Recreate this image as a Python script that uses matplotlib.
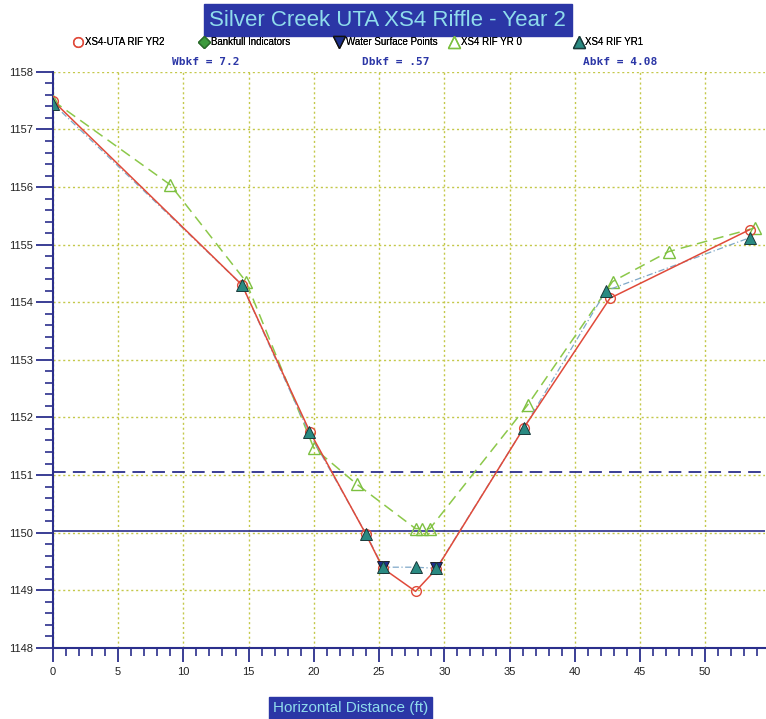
import matplotlib
matplotlib.use("Agg")
import matplotlib.pyplot as plt
from matplotlib.lines import Line2D
from matplotlib.ticker import MultipleLocator

# ---- data ----
yr2_x = [0, 14.5, 19.7, 24.0, 25.3, 27.8, 29.4, 36.1, 42.7, 53.4]
yr2_y = [1157.5, 1154.3, 1151.75, 1149.97, 1149.38, 1148.98, 1149.37, 1151.82, 1154.07, 1155.26]

yr1_x = [0, 14.5, 19.6, 24.0, 25.3, 27.8, 29.4, 36.1, 42.4, 53.4]
yr1_y = [1157.45, 1154.3, 1151.75, 1149.98, 1149.4, 1149.4, 1149.38, 1151.82, 1154.2, 1155.12]

yr0_x = [0, 9.0, 14.8, 20.0, 23.3, 27.8, 28.3, 28.9, 36.4, 42.9, 47.2, 53.8]
yr0_y = [1157.5, 1156.04, 1154.36, 1151.47, 1150.84, 1150.07, 1150.07, 1150.07, 1152.22, 1154.36, 1154.88, 1155.29]

ws_x = [25.3, 29.4]
ws_y = [1149.4, 1149.38]

bankfull_elev = 1151.05
water_elev = 1150.03

title = "Silver Creek UTA XS4 Riffle - Year 2"
xlabel = "Horizontal Distance (ft)"
stats = ["Wbkf = 7.2", "Dbkf = .57", "Abkf = 4.08"]
legend_labels = ["XS4-UTA RIF YR2", "Bankfull Indicators", "Water Surface Points",
                 "XS4 RIF YR 0", "XS4 RIF YR1"]

# ---- figure ----
plt.rcParams['font.family'] = ['Liberation Sans', 'DejaVu Sans']
fig = plt.figure(figsize=(7.66, 7.19), dpi=100)
ax = fig.add_axes([0.069, 0.099, 0.93, 0.801])

navy = '#2b2f8c'
grid_c = '#c4c84a'

ax.axhline(bankfull_elev, color=navy, lw=1.3, ls=(0, (7, 4)), zorder=2)
ax.axhline(water_elev, color=navy, lw=1.2, zorder=2)

ax.plot(yr0_x, yr0_y, color='#8cc84a', lw=1.1, ls=(0, (7, 4)), marker='^', ms=8,
        mfc='none', mec='#7cc040', mew=1.0, zorder=3)
ax.plot(yr1_x, yr1_y, color='#7fa8c8', lw=0.9, ls=(0, (5, 2, 1, 2)), zorder=4)
ax.plot(yr2_x, yr2_y, color='#e04a3a', lw=1.1, marker='o', ms=7, mfc='none',
        mec='#e04a3a', mew=1.0, zorder=5)
ax.plot(ws_x, ws_y, ls='none', marker='v', ms=9, mfc='#1d2f8c', mec='#111', mew=0.6, zorder=6)
ax.plot(yr1_x, yr1_y, ls='none', marker='^', ms=9, mfc='#2a8a82', mec='#1a3a3a', mew=0.7, zorder=7)

ax.set_xlim(0, 54.6)
ax.set_ylim(1148, 1158)
ax.xaxis.set_major_locator(MultipleLocator(5))
ax.xaxis.set_minor_locator(MultipleLocator(1))
ax.yaxis.set_major_locator(MultipleLocator(1))
ax.yaxis.set_minor_locator(MultipleLocator(0.2))
ax.grid(True, which='major', color=grid_c, ls=(0, (1.5, 2)), lw=1.0)
for s in ['top', 'right']:
    ax.spines[s].set_visible(False)
for s in ['left', 'bottom']:
    ax.spines[s].set_color(navy)
    ax.spines[s].set_linewidth(1.5)
ax.tick_params(which='major', direction='out', length=12, width=1.3, color=navy,
               labelsize=8, labelcolor='#222', pad=2)
ax.tick_params(which='minor', direction='out', length=6, width=1.2, color=navy)
ax.tick_params(axis='x', which='major', length=10, pad=4)
ax.set_xticklabels([str(int(v)) for v in ax.get_xticks()])
ax.set_yticklabels([str(int(v)) for v in ax.get_yticks()])

# Title box
fig.text(0.506, 0.972, title, ha='center', va='center', fontsize=16, color='#8fdcec',
         bbox=dict(boxstyle='square,pad=0.25', fc='#2b36a6', ec='#2b36a6'))
# x label box
fig.text(0.458, 0.015, xlabel, ha='center', va='center', fontsize=11, color='#8fdcec',
         bbox=dict(boxstyle='square,pad=0.25', fc='#2b36a6', ec='#2b36a6'))

# legend entries, individually positioned
handles = [
    Line2D([], [], ls='none', marker='o', ms=7, mfc='none', mec='#e04a3a'),
    Line2D([], [], ls='none', marker='D', ms=6, mfc='#3c9a3c', mec='#2a6a2a'),
    Line2D([], [], ls='none', marker='v', ms=8, mfc='#1d2f8c', mec='#111'),
    Line2D([], [], ls='none', marker='^', ms=8, mfc='none', mec='#7cc040'),
    Line2D([], [], ls='none', marker='^', ms=8, mfc='#2a8a82', mec='#1a3a3a'),
]
leg_x = [0.096, 0.260, 0.436, 0.586, 0.749]
for h, lab, lx in zip(handles, legend_labels, leg_x):
    leg = fig.legend([h], [lab], loc='center left', bbox_to_anchor=(lx, 0.941),
                     frameon=False, fontsize=7.0, handletextpad=0.2, handlelength=1.0,
                     borderpad=0, borderaxespad=0)
    fig.add_artist(leg)

# stats
xs = [0.268, 0.516, 0.81]
for x, s in zip(xs, stats):
    fig.text(x, 0.914, s, ha='center', va='center', fontsize=8, color='#2b36a6',
             family='DejaVu Sans Mono', fontweight='bold')

fig.savefig('out.png', dpi=100)
